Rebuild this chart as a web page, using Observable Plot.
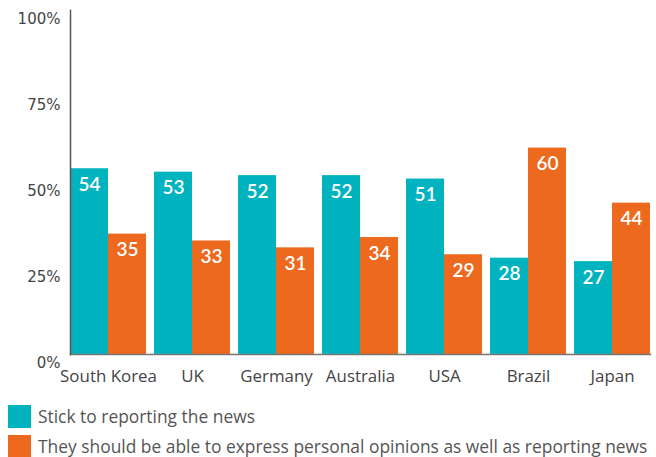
<!DOCTYPE html>
<html>
<head>
<meta charset="utf-8">
<script src="https://cdn.jsdelivr.net/npm/d3@7"></script>
<script src="https://cdn.jsdelivr.net/npm/@observablehq/plot@0.6"></script>
<style>
  html, body { margin: 0; padding: 0; background: #fff; }
  #chart { width: 656px; }
  .legend { font-family: "Open Sans", "Noto Sans", sans-serif; font-size: 17.4px; color: #555; margin-top: 8px; }
  .legend .item { display: flex; align-items: center; height: 30px; padding-left: 8px; white-space: nowrap; }
  .legend .sw { width: 23px; height: 23px; margin-right: 7px; flex: none; }
</style>
</head>
<body>
<div id="chart"></div>
<script>
const countries = ["South Korea", "UK", "Germany", "Australia", "USA", "Brazil", "Japan"];
const stickValues = [54, 53, 52, 52, 51, 28, 27];
const opinionValues = [35, 33, 31, 34, 29, 60, 44];
const seriesNames = ["Stick to reporting the news", "They should be able to express personal opinions as well as reporting news"];
const seriesColors = ["#00b3bf", "#ec691e"];
const yTicks = [0, 25, 50, 75, 100];

const data = [];
countries.forEach((c, i) => {
  data.push({country: c, series: seriesNames[0], value: stickValues[i]});
  data.push({country: c, series: seriesNames[1], value: opinionValues[i]});
});

const plot = Plot.plot({
  width: 656,
  height: 393,
  marginLeft: 64,
  marginRight: 0,
  marginTop: 10,
  marginBottom: 39,
  style: {fontFamily: "Lato, 'Open Sans', sans-serif", background: "#fff"},
  fx: {domain: countries, paddingInner: 0.09, paddingOuter: 0.035, label: null},
  x: {domain: seriesNames, padding: 0, axis: null},
  y: {domain: [0, 100], axis: null},
  color: {domain: seriesNames, range: seriesColors},
  marks: [
    Plot.barY(data, {fx: "country", x: "series", y: "value", fill: "series"}),
    Plot.text(data, {fx: "country", x: "series", y: "value", text: d => String(d.value), dy: 16, fill: "white", fontSize: 19, fontWeight: 600, fontFamily: "Lato, sans-serif"}),
    Plot.axisY({ticks: yTicks, tickSize: 0, tickPadding: 10, tickFormat: d => d + "%", dy: 9, fontSize: 15, color: "#444", fontFamily: "'DejaVu Sans', sans-serif", label: null}),
    Plot.axisFx({anchor: "bottom", tickSize: 0, tickPadding: 15, fontSize: 16.9, color: "#444", fontFamily: "'Open Sans', 'Noto Sans', sans-serif", label: null}),
    Plot.frame({anchor: "bottom", stroke: "#777", strokeWidth: 1.5, facet: "super"}),
    Plot.frame({anchor: "left", stroke: "#555", strokeWidth: 1.5, facet: "super"})
  ]
});
document.getElementById("chart").appendChild(plot);

const legend = document.createElement("div");
legend.className = "legend";
seriesNames.forEach((name, i) => {
  const item = document.createElement("div");
  item.className = "item";
  const sw = document.createElement("span");
  sw.className = "sw";
  sw.style.background = seriesColors[i];
  const label = document.createElement("span");
  label.textContent = name;
  item.appendChild(sw);
  item.appendChild(label);
  legend.appendChild(item);
});
document.getElementById("chart").appendChild(legend);
</script>
</body>
</html>
